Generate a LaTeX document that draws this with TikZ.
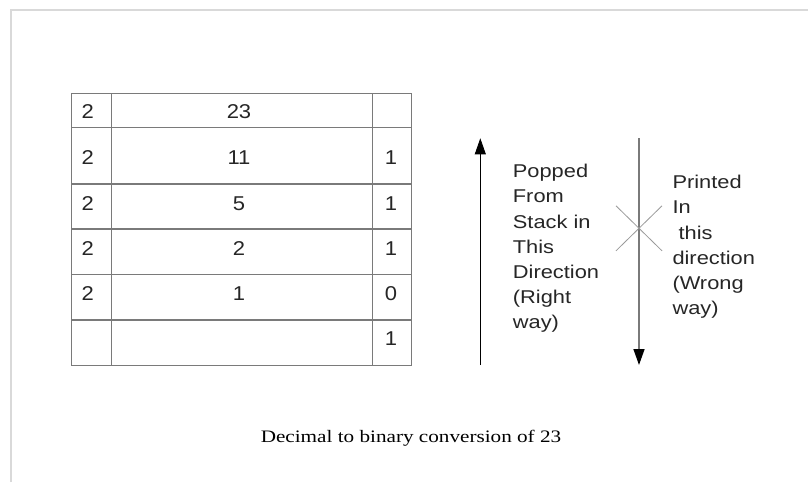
\documentclass[tikz,border=0pt]{standalone}
\usepackage{fontspec}
\setmainfont{Liberation Serif}
\newfontfamily\digitf[FakeStretch=1.1]{Liberation Sans}
\newfontfamily\labelf[FakeStretch=1.18]{Liberation Sans}
\newfontfamily\capf[FakeStretch=1.21]{Liberation Serif}
\usetikzlibrary{arrows.meta,calc}
\definecolor{framegray}{HTML}{D9D9D9}
\definecolor{gridgray}{HTML}{7A7A7A}
\definecolor{crossgray}{HTML}{9A9A9A}
\tikzset{
  grid/.style={draw=gridgray, line width=1.2pt},
  cell/.style={inner sep=0pt, anchor=base, font=\digitf\fontsize{20}{24}\selectfont, text=black!85},
  lcell/.style={cell, anchor=base west},
  label/.style={inner sep=0pt, anchor=north west, align=left, font=\labelf\fontsize{18.5}{25.2}\selectfont, text=black!85},
  caption/.style={inner sep=0pt, anchor=base, font=\capf\fontsize{17.5}{20}\selectfont},
  tip/.style={-{Triangle[length=16pt,width=11pt]}},
}
\begin{document}
\begin{tikzpicture}[x=1pt,y=-1pt]
\useasboundingbox (0,0) rectangle (808,482);
\fill[white] (0,0) rectangle (808,482);
% frame
\draw[framegray, line width=2pt] (11,482) -- (11,10) -- (808,10);
% table grid
\draw[grid] (71.7,93.3) rectangle (411.7,365.7);
\foreach \y in {127.7,184,229,274.5,320} \draw[grid] (71.7,\y) -- (411.7,\y);
\draw[grid] (111.7,93.3) -- (111.7,365.7);
\draw[grid] (372.3,93.3) -- (372.3,365.7);
% cells
\node[lcell] (d1) at (81.5,118.3) {2};
\node[lcell] (d2) at (81.5,164) {2};
\node[lcell] (d3) at (81.5,210) {2};
\node[lcell] (d4) at (81.5,255.5) {2};
\node[lcell] (d5) at (81.5,300.5) {2};
\node[cell] (q1) at (239,118.3) {23};
\node[cell] (q2) at (239,164) {11};
\node[cell] (q3) at (239,210) {5};
\node[cell] (q4) at (239,255.5) {2};
\node[cell] (q5) at (239,300.5) {1};
\node[cell] (r2) at (391,164) {1};
\node[cell] (r3) at (391,210) {1};
\node[cell] (r4) at (391,255.5) {1};
\node[cell] (r5) at (391,300.5) {0};
\node[cell] (r6) at (391,345.3) {1};
% arrows
\coordinate (upS) at (480.3,365);
\coordinate (upE) at (480.3,138.3);
\draw[black, line width=0.8pt, tip] (upS) -- (upE);
\coordinate (dnS) at (639,138.3);
\coordinate (dnE) at (639,365);
\draw[gridgray, line width=1.5pt, -{Triangle[length=16pt,width=11pt,fill=black,color=black]}] (dnS) -- (dnE);
% cross
\coordinate (xc) at (639,228.3);
\draw[crossgray, line width=0.8pt] ($(xc)+(-23,-22.5)$) -- ($(xc)+(23,22.5)$);
\draw[crossgray, line width=0.8pt] ($(xc)+(-23,22.5)$) -- ($(xc)+(23,-22.5)$);
% labels
\node[label] (popped) at (512.7,164) {Popped\\From\\Stack in\\This\\Direction\\(Right\\way)};
\node[label] (printed) at (672.3,175) {Printed\\In\\\ this\\direction\\(Wrong\\way)};
% caption
\node[caption] (cap) at (411,442.7) {Decimal to binary conversion of 23};
\end{tikzpicture}
\end{document}
